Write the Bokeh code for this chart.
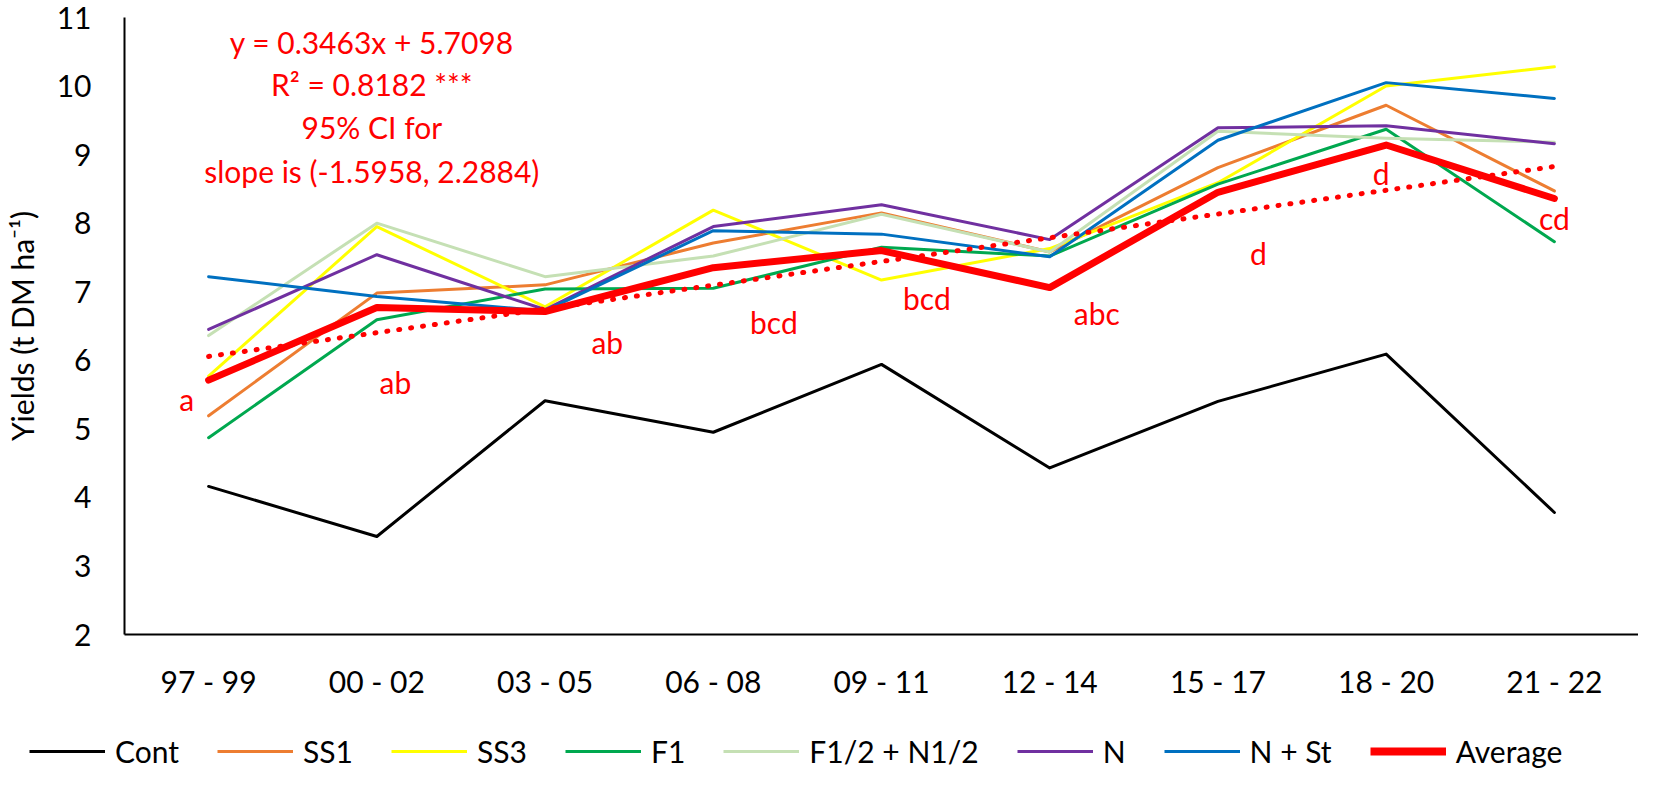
from bokeh.plotting import figure
from bokeh.layouts import column
from bokeh.models import Range1d, FixedTicker, Legend, LegendItem, Label
from bokeh.core.properties import value
from bokeh.embed import file_html
from bokeh.resources import INLINE

periods = ["97 - 99", "00 - 02", "03 - 05", "06 - 08", "09 - 11", "12 - 14", "15 - 17", "18 - 20", "21 - 22"]
xpos = [1, 2, 3, 4, 5, 6, 7, 8, 9]

cont = [4.16, 3.43, 5.41, 4.95, 5.94, 4.43, 5.40, 6.09, 3.78]
ss1 = [5.19, 6.98, 7.10, 7.71, 8.15, 7.58, 8.81, 9.72, 8.47]
ss3 = [5.77, 7.95, 6.78, 8.19, 7.17, 7.63, 8.59, 10.00, 10.28]
f1 = [4.87, 6.59, 7.04, 7.05, 7.65, 7.52, 8.57, 9.37, 7.73]
f1n1 = [6.36, 8.00, 7.22, 7.52, 8.13, 7.58, 9.34, 9.24, 9.18]
n = [6.45, 7.54, 6.74, 7.95, 8.27, 7.76, 9.39, 9.42, 9.16]
nst = [7.22, 6.93, 6.72, 7.89, 7.84, 7.51, 9.21, 10.05, 9.82]
average = [5.71, 6.77, 6.71, 7.35, 7.60, 7.06, 8.45, 9.14, 8.36]

trend_slope = 0.3463
trend_intercept = 5.7098

letters = ["a", "ab", "ab", "bcd", "bcd", "abc", "d", "d", "cd"]
letter_x = [0.87, 2.11, 3.37, 4.36, 5.27, 6.28, 7.24, 7.97, 9.0]
letter_y = [5.43, 5.69, 6.26, 6.56, 6.91, 6.69, 7.56, 8.73, 8.08]

eq_lines = ["y = 0.3463x + 5.7098", "R\u00b2 = 0.8182 ***", "95% CI for", "slope is (-1.5958, 2.2884)"]
eq_y = [10.64, 10.03, 9.41, 8.76]
eq_x = 1.97

FONT = "Lato"
RED = "#FF0000"

series = [
    ("Cont", cont, "#000000", 3),
    ("SS1", ss1, "#ED7D31", 3),
    ("SS3", ss3, "#FFFF00", 3),
    ("F1", f1, "#00A84F", 3),
    ("F1/2 + N1/2", f1n1, "#C5E0B4", 3),
    ("N", n, "#7030A0", 3),
    ("N + St", nst, "#0070C0", 3),
    ("Average", average, RED, 7),
]

p = figure(width=1638, height=712, output_backend="svg", toolbar_location=None,
           x_range=Range1d(0.5, 9.5), y_range=Range1d(2, 11),
           min_border_left=120, min_border_right=0, min_border_top=17, min_border_bottom=78)
p.outline_line_color = None
p.grid.grid_line_color = None
p.background_fill_color = "white"

p.xaxis.ticker = FixedTicker(ticks=xpos)
p.xaxis.major_label_overrides = {x: lab for x, lab in zip(xpos, periods)}
p.yaxis.ticker = FixedTicker(ticks=list(range(2, 12)))
for ax in (p.xaxis, p.yaxis):
    ax.axis_line_color = "black"
    ax.axis_line_width = 2
    ax.major_tick_line_color = None
    ax.minor_tick_line_color = None
    ax.major_tick_out = 0
    ax.major_tick_in = 0
    ax.major_label_text_font = FONT
    ax.major_label_text_font_size = "30px"
    ax.major_label_text_color = "black"
p.xaxis.major_label_standoff = 28
p.yaxis.major_label_standoff = 33
p.yaxis.axis_label = "Yields (t DM ha\u207b\u00b9)"
p.yaxis.axis_label_text_font = FONT
p.yaxis.axis_label_text_font_size = "30px"
p.yaxis.axis_label_text_font_style = "normal"
p.yaxis.axis_label_text_color = "black"
p.yaxis.axis_label_standoff = 14

for name, ys, col, w in series:
    p.line(xpos, ys, line_color=col, line_width=w, line_join="round", line_cap="round")

trend_y = [trend_slope * x + trend_intercept for x in xpos]
p.line(xpos, trend_y, line_color=RED, line_width=5, line_dash="1 11", line_cap="round")

p.text(letter_x, letter_y, text=letters, text_color=RED, text_font=value(FONT),
       text_font_size="30px", text_align="center", text_baseline="middle")

for txt, yy in zip(eq_lines, eq_y):
    p.add_layout(Label(x=eq_x, y=yy, text=txt, text_color=RED, text_font=FONT,
                       text_font_size="30px", text_align="center", text_baseline="middle"))

# legend strip (separate figure so the legend is not clipped by the chart frame)
lg = figure(width=1638, height=57, output_backend="svg", toolbar_location=None,
            x_range=Range1d(0, 1), y_range=Range1d(100, 101),
            x_axis_location=None, y_axis_location=None,
            min_border_left=0, min_border_right=0, min_border_top=0, min_border_bottom=0)
lg.outline_line_color = None
lg.grid.grid_line_color = None
aligned_off = False
if "frame_align" in lg.properties():
    lg.frame_align = False
    p.frame_align = False
    aligned_off = True

items = []
for name, ys, col, w in series:
    # same data, drawn outside this strip's visible range: only the legend glyph shows
    r = lg.line(xpos, ys, line_color=col, line_width=(8 if w > 3 else w), line_cap="butt")
    items.append(LegendItem(label=value(name), renderers=[r]))
legend_x = 29 if aligned_off else -91
legend = Legend(items=items, orientation="horizontal", nrows=1, location=(legend_x, 0),
                glyph_width=76, glyph_height=30, label_standoff=10, spacing=38,
                padding=0, margin=0, border_line_alpha=0, background_fill_alpha=0,
                label_text_font=FONT, label_text_font_size="30px", label_text_color="black",
                label_height=30)
lg.add_layout(legend, "center")

layout = column(p, lg, spacing=0)
open("out.html", "w").write(file_html(layout, INLINE))
